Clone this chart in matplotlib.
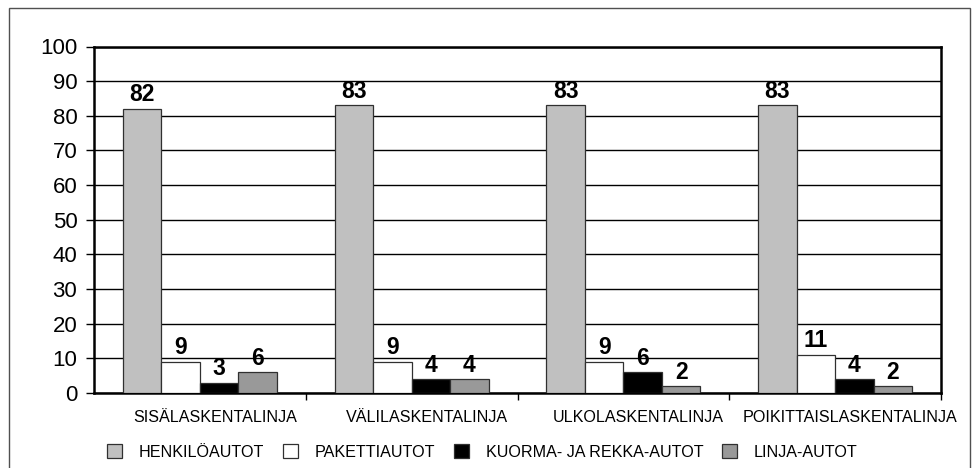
import numpy as np
import matplotlib.pyplot as plt
import matplotlib.transforms as mtransforms
from matplotlib.patches import Rectangle

categories = ['SISÄLASKENTALINJA', 'VÄLILASKENTALINJA', 'ULKOLASKENTALINJA', 'POIKITTAISLASKENTALINJA']
series_names = ['HENKILÖAUTOT', 'PAKETTIAUTOT', 'KUORMA- JA REKKA-AUTOT', 'LINJA-AUTOT']
henkiloautot = [82, 83, 83, 83]
pakettiautot = [9, 9, 9, 11]
kuorma_autot = [3, 4, 6, 4]
linja_autot = [6, 4, 2, 2]
yticks = [0, 10, 20, 30, 40, 50, 60, 70, 80, 90, 100]

colors = ['#c0c0c0', '#ffffff', '#000000', '#999999']

plt.rcParams['font.family'] = ['Liberation Sans', 'DejaVu Sans']

fig = plt.figure(figsize=(9.73, 4.68), dpi=100)
ax = fig.add_axes([94 / 973, 75 / 468, 847 / 973, 346.5 / 468])

# outer frame
fig.add_artist(Rectangle((9 / 973, -0.05), 961 / 973, 1.05 - 8 / 468, transform=fig.transFigure,
                         fill=False, edgecolor='#505050', linewidth=1.0, clip_on=False))

x = np.arange(len(categories))
w = 0.182
data = [henkiloautot, pakettiautot, kuorma_autot, linja_autot]
bars = []
for i, vals in enumerate(data):
    b = ax.bar(x + (i - 1.5) * w, vals, w, color=colors[i], edgecolor='#303030', linewidth=0.9,
               label=series_names[i], zorder=3)
    bars.append(b)
    for xi, v in zip(x + (i - 1.5) * w, vals):
        ax.text(xi, v + 0.7, str(v), ha='center', va='bottom', fontsize=16.5, fontweight='bold', zorder=4)

ax.set_ylim(0, 100)
ax.set_xlim(-0.5, 3.5)
ax.set_yticks(yticks)
ax.tick_params(axis='y', labelsize=16, length=6, width=1, direction='out', pad=6)
ax.yaxis.grid(True, color='black', linewidth=1.0, zorder=0)
ax.set_axisbelow(True)

ax.set_xticks(x)
ax.set_xticklabels(categories, fontsize=11.6)
ax.set_xticks([0.5, 1.5, 2.5, 3.5], minor=True)
ax.tick_params(axis='x', which='major', length=0, pad=12)
ax.tick_params(axis='x', which='minor', length=5, width=1, direction='out')
# labels sit a little right of the group centre in the original
shift = mtransforms.ScaledTranslation(15 / 100, 0, fig.dpi_scale_trans)
for lab in ax.get_xticklabels():
    lab.set_transform(lab.get_transform() + shift)

for s in ax.spines.values():
    s.set_linewidth(1.8)
    s.set_color('black')

fig.legend(handles=bars, labels=series_names, loc='center left', bbox_to_anchor=(107 / 973, 16 / 468),
           ncol=4, frameon=False, prop={'size': 11.6},
           handlelength=0.93, handleheight=0.93, handletextpad=1.05, columnspacing=1.15,
           borderpad=0, borderaxespad=0)

fig.savefig('out.png', dpi=100)
